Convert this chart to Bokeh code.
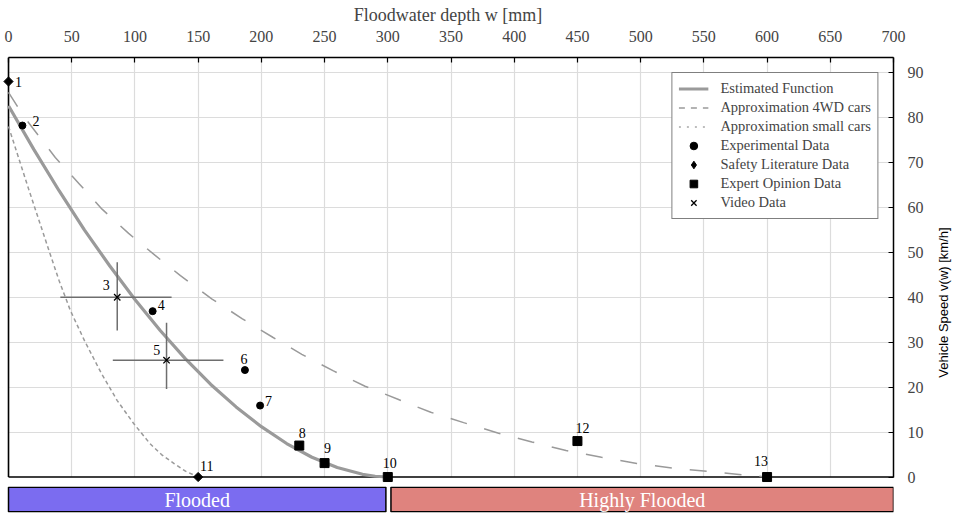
import math
from bokeh.plotting import figure
from bokeh.models import Range1d, FixedTicker, ColumnDataSource
from bokeh.layouts import column, row
from bokeh.embed import file_html
from bokeh.resources import INLINE
from bokeh.core.properties import value

# ---------------- data ----------------
x_ticks = list(range(0, 701, 50))
y_ticks = list(range(0, 91, 10))

# Estimated function
est_w = [0, 20, 40, 60, 80, 100, 120, 140, 160, 180, 200, 220, 240, 260, 280, 290, 300]
est_v = [82.6, 72.9, 63.7, 55.0, 47.0, 39.5, 32.6, 26.3, 20.6, 15.6, 11.2, 7.45, 4.4, 2.1, 0.6, 0.17, 0]

# Approximation 4WD cars
wd_w = [0, 11.6, 37, 56, 74, 95, 116, 136, 161, 185, 209, 232, 257, 282, 308, 334,
        360, 387, 414, 441, 469, 497, 525, 553, 580, 600]
wd_v = [85.6, 80.4, 71.1, 65.2, 59.6, 54.2, 49.3, 44.8, 39.6, 35.2, 31.1, 27.3, 23.6, 20.2, 17.3, 14.4,
        12.1, 9.8, 7.8, 5.9, 4.4, 3.0, 2.0, 1.25, 0.5, 0]

# Approximation small cars
sm_w = [0, 16, 32, 40, 49, 60, 73, 86, 99, 112, 121, 131, 140, 150]
sm_v = [78, 64, 50.4, 43.7, 37, 30.4, 23.3, 17, 11.9, 7.4, 5.0, 3.0, 1.3, 0]

# Experimental data
exp_id = ["2", "4", "6", "7"]
exp_w = [11, 114, 187, 199]
exp_v = [78.2, 36.9, 23.8, 15.9]

# Safety literature data
saf_id = ["1", "11"]
saf_w = [0, 150]
saf_v = [88, 0]

# Expert opinion data
exo_id = ["8", "9", "10", "12", "13"]
exo_w = [230, 250, 300, 450, 600]
exo_v = [7.0, 3.1, 0, 8.0, 0]

# Video data with ranges
vid_id = ["3", "5"]
vid_w = [86, 125]
vid_v = [40, 26]
vid_w_lo = [41, 82.5]
vid_w_hi = [129, 170]
vid_v_lo = [32.6, 19.6]
vid_v_hi = [47.8, 34.3]

# Flood zones
zone_names = ["Flooded", "Highly Flooded"]
zone_start = [0, 302.5]
zone_end = [298.5, 700]

x_title = "Floodwater depth w [mm]"
y_title = "Vehicle Speed v(w) [km/h]"

# ---------------- style ----------------
SERIF = "Liberation Serif"
SANS = "Liberation Sans"
GRAY = "#9a9a9a"
zone_colors = ["#7b6cf0", "#df837e"]
# label offsets in screen pixels (dx right, dy up)
label_off = {"1": (10, 0), "2": (13.5, 4.5), "3": (-11, 12), "4": (8.5, 5.7), "5": (-9.7, 10),
             "6": (-1, 11.5), "7": (8.5, 4.5), "8": (3, 13), "9": (3, 14.7), "10": (2, 14.3),
             "11": (8.6, 11), "12": (5, 13), "13": (-6, 16)}
NAN = [float("nan")]

W = 932          # width of the plot column
WS = 24          # width of the strip holding the vertical axis title
H_MAIN, H_BAR = 486, 28
BL, BR = 2, 39
X0, X1 = -4.75, 700
Y0, Y1 = -2.11, 93.34

p = figure(width=W, height=H_MAIN, x_range=Range1d(X0, X1), y_range=Range1d(Y0, Y1),
           x_axis_location="above", y_axis_location="right",
           toolbar_location=None, output_backend="svg",
           min_border_left=BL, min_border_right=BR, min_border_bottom=0, min_border_top=57)
p.outline_line_color = None
p.background_fill_color = "white"
p.border_fill_color = "white"

xa = p.xaxis[0]
xa.ticker = FixedTicker(ticks=x_ticks)
xa.bounds = (0, 700)
xa.axis_label = x_title
xa.axis_label_text_font = SERIF
xa.axis_label_text_font_size = "18px"
xa.axis_label_text_font_style = "normal"
xa.axis_label_standoff = 3
xa.major_label_text_font = SERIF
xa.major_label_text_font_size = "16px"
xa.major_label_standoff = 16
xa.major_tick_in = 5
xa.major_tick_out = 0
xa.minor_tick_line_color = None
xa.axis_line_width = 1.5
xa.major_tick_line_width = 1.2

ya = p.yaxis[0]
ya.ticker = FixedTicker(ticks=y_ticks)
ya.bounds = (0, Y1)
ya.major_label_text_font = SERIF
ya.major_label_text_font_size = "16px"
ya.major_label_standoff = 14
ya.major_tick_in = 5
ya.major_tick_out = 0
ya.minor_tick_line_color = None
ya.axis_line_width = 1.5
ya.major_tick_line_width = 1.2

p.xgrid.ticker = FixedTicker(ticks=x_ticks)
p.ygrid.ticker = FixedTicker(ticks=y_ticks)
p.grid.grid_line_color = "#dcdcdc"
p.grid.grid_line_width = 1.2

# masks hiding the grid outside the visual frame
p.quad(left=[X0 - 5, X0 - 5], right=[0, X1], bottom=[Y0 - 1, Y0 - 1], top=[Y1, 0],
       fill_color="white", line_color=None)
# visual frame (left and bottom sides)
p.segment(x0=[0, 0], y0=[0, 0], x1=[0, 700], y1=[Y1, 0], line_color="black", line_width=1.6)

# curves (legend entries for the dashed ones use separate legend-only glyphs)
p.line(est_w, est_v, line_color=GRAY, line_width=3.2, legend_label="Estimated Function")
p.line(x=NAN, y=NAN, line_color=GRAY, line_width=1.5, line_dash="6 6",
       legend_label="Approximation 4WD cars")
p.line(x=NAN, y=NAN, line_color="#a8a8a8", line_width=1.5, line_dash="2 6",
       legend_label="Approximation small cars")
p.line(wd_w, wd_v, line_color=GRAY, line_width=1.5, line_dash="17 18")
p.line(sm_w, sm_v, line_color=GRAY, line_width=1.5, line_dash="4 3")

# error bars for video data
p.segment(x0=vid_w_lo, y0=vid_v, x1=vid_w_hi, y1=vid_v, line_color="#6e6e6e", line_width=1.5)
p.segment(x0=vid_w, y0=vid_v_lo, x1=vid_w, y1=vid_v_hi, line_color="#6e6e6e", line_width=1.5)

# markers
p.scatter(exp_w, exp_v, marker="circle", size=7, fill_color="black", line_color="black",
          legend_label="Experimental Data")
p.scatter(x=NAN, y=NAN, marker="diamond", size=11, fill_color="black", line_color="black",
          legend_label="Safety Literature Data")
p.scatter(saf_w, saf_v, marker="square", angle=math.pi / 4, size=6.5, fill_color="black",
          line_color="black")
p.scatter(exo_w, exo_v, marker="square", size=9, fill_color="black", line_color="black",
          legend_label="Expert Opinion Data")
p.scatter(vid_w, vid_v, marker="x", size=9, line_color="black", line_width=1.3,
          legend_label="Video Data")

# point labels
lab_id = saf_id + exp_id + exo_id + vid_id
lab_w = saf_w + exp_w + exo_w + vid_w
lab_v = saf_v + exp_v + exo_v + vid_v
src = ColumnDataSource(dict(x=lab_w, y=lab_v, text=lab_id,
                            dx=[label_off[i][0] for i in lab_id],
                            dy=[-label_off[i][1] for i in lab_id]))
p.text(x="x", y="y", text="text", x_offset="dx", y_offset="dy", source=src,
       text_align="center", text_baseline="middle", text_font=value(SERIF),
       text_font_size="14px", text_color="black")

lg = p.legend[0]
lg.location = "top_right"
lg.margin = 15
lg.padding = 6
lg.spacing = 0
lg.label_height = 19
lg.glyph_height = 19
lg.glyph_width = 30
lg.label_standoff = 12
lg.label_text_font = SERIF
lg.label_text_font_size = "14.5px"
lg.border_line_color = "black"
lg.border_line_width = 1.5
lg.background_fill_color = "white"
lg.background_fill_alpha = 1

# ---------------- zone bars ----------------
pb = figure(width=W, height=H_BAR, x_range=p.x_range, y_range=Range1d(-0.03, 1.03),
            x_axis_location=None, y_axis_location=None,
            toolbar_location=None, output_backend="svg",
            min_border_left=BL, min_border_right=BR, min_border_top=0, min_border_bottom=2)
pb.outline_line_color = None
pb.grid.visible = False
pb.background_fill_color = "white"
pb.border_fill_color = "white"
pb.quad(left=zone_start, right=zone_end, bottom=0, top=1, fill_color=zone_colors,
        line_color="black", line_width=1.5)
zone_mid = [(a + b) / 2 for a, b in zip(zone_start, zone_end)]
pb.text(x=zone_mid, y=[0.5] * len(zone_mid), text=zone_names, text_align="center",
        text_baseline="middle", text_color="white", text_font=value(SERIF), text_font_size="20px")

# ---------------- strip with the vertical axis title ----------------
HS = H_MAIN + H_BAR
ps = figure(width=WS, height=HS, x_range=Range1d(0, WS), y_range=Range1d(0, HS),
            x_axis_location=None, y_axis_location=None,
            toolbar_location=None, output_backend="svg",
            min_border_left=0, min_border_right=0, min_border_top=0, min_border_bottom=0)
ps.outline_line_color = None
ps.grid.visible = False
ps.background_fill_color = "white"
ps.border_fill_color = "white"
ps.text(x=[11], y=[HS - 302], text=[y_title], angle=math.pi / 2, text_align="center",
        text_baseline="middle", text_font=value(SANS), text_font_size="13px", text_color="black")

layout = row(column(p, pb, spacing=0), ps, spacing=0)
open("out.html", "w").write(file_html(layout, INLINE))
